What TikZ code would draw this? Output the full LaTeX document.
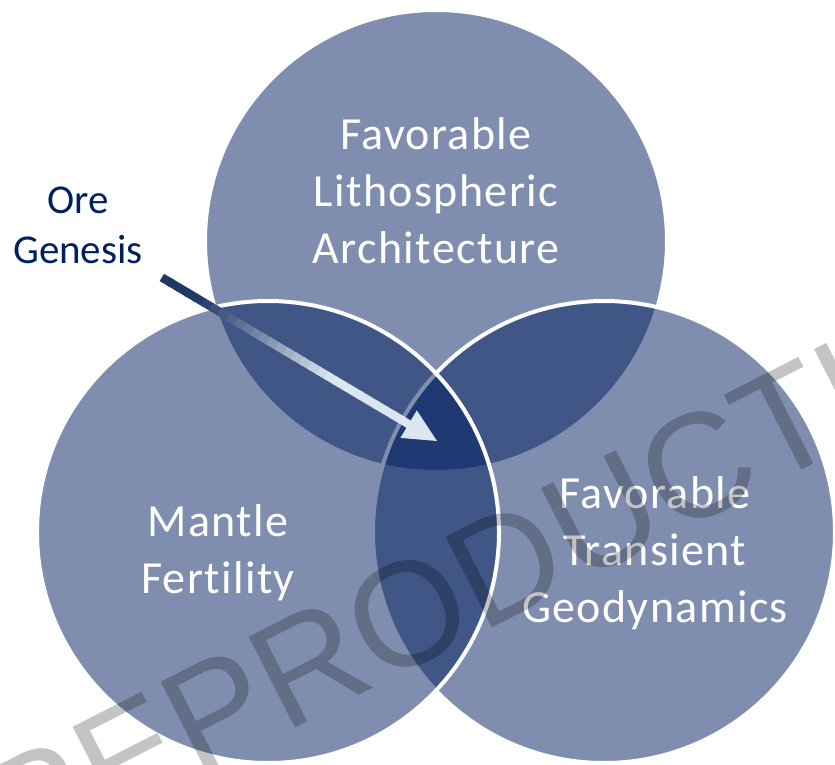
\documentclass[tikz,border=0pt]{standalone}
\usepackage{fontspec}
\usetikzlibrary{positioning,calc}
\newfontfamily\lblfont{Carlito}[LetterSpace=3,Ligatures=NoCommon]
\newfontfamily\orefont{Carlito}
\newfontfamily\wmfont{Liberation Sans}
\definecolor{vennblue}{RGB}{0,30,96}
\definecolor{orenavy}{RGB}{0,32,96}
\definecolor{arrowdark}{RGB}{32,56,100}
\definecolor{arrowlight}{RGB}{220,230,242}

\begin{document}
\begin{tikzpicture}[x=1pt,y=-1pt,every node/.style={outer sep=0pt},
 venn/.style={circle,draw=white,line width=4pt,fill=vennblue,fill opacity=0.5,
 minimum size=462pt,inner sep=0pt},
 lbl/.style={text=white,align=center,inner sep=0pt,
 font=\lblfont\fontsize{46}{57}\selectfont},
 orelbl/.style={text=orenavy,align=center,inner sep=0pt,
 font=\orefont\fontsize{41}{50}\selectfont},
 wmark/.style={anchor=base west,rotate=27,inner sep=0pt,text=black,
 text opacity=0.23,font=\wmfont\fontsize{148}{148}\selectfont}]

  \useasboundingbox (0,0) rectangle (835,765);
  \clip (0,0) rectangle (835,765);

  \node[venn] (arch) at (436,241) {};
  \node[venn] (trans) at (604,532) {};
  \node[venn] (mantle) at (268,532) {};

  \node[lbl] (archtxt) at (436,191) {Favorable\\Lithospheric\\Architecture};
  \node[lbl] (transtxt) at (655,553) {Favorable\\Transient\\Geodynamics};
  \node[lbl] (mantletxt) at (218,553) {Mantle\\Fertility};

  \node[orelbl] (ore) at (78,225) {Ore\\Genesis};

  % arrow into the common core
  \coordinate (core) at (437,441);
  \coordinate (tail) at ([xshift=19pt,yshift=-14pt]ore.south east);
  \coordinate (hb) at ($(core)!33pt!(tail)$);
  \foreach \i in {0,...,29}{
   \pgfmathtruncatemacro\mix{max(0,min(100,(\i/30-0.12)/0.55*100))}
   \pgfmathsetmacro\a{\i/30}
   \pgfmathsetmacro\b{\i/30+0.04}
   \draw[line width=8.5pt,arrowlight!\mix!arrowdark] ($(tail)!\a!(hb)$) -- ($(tail)!\b!(hb)$);
  }
  \fill[arrowlight] (core) -- ($(hb)!16pt!90:(core)$) -- ($(hb)!16pt!-90:(core)$) -- cycle;

  \node[wmark] (wm) at (13,872) {REPRODUCTI};

\end{tikzpicture}
\end{document}
